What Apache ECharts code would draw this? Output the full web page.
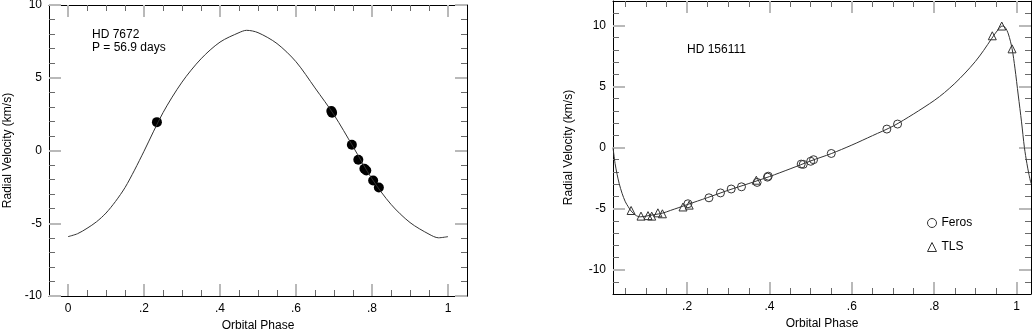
<!DOCTYPE html>
<html>
<head>
<meta charset="utf-8">
<script src="https://cdn.jsdelivr.net/npm/echarts@6/dist/echarts.min.js"></script>
<style>
html, body { margin: 0; padding: 0; background: #fff; }
#wrap { position: relative; width: 1032px; height: 331px; }
.panel { position: absolute; top: 0; width: 516px; height: 331px; }
.frame { z-index: 1; }
.marks { z-index: 2; }
</style>
</head>
<body>
<div id="wrap">
  <div class="panel frame" id="leftFrame" style="left:0"></div>
  <div class="panel marks" id="leftMarks" style="left:0"></div>
  <div class="panel frame" id="rightFrame" style="left:516px"></div>
  <div class="panel marks" id="rightMarks" style="left:516px"></div>
</div>
<script>
var FONT = '"Liberation Sans", Arial, Helvetica, sans-serif';

// HD 7672: fitted orbit + measurements
var phaseA = [0, 0.025, 0.05, 0.075, 0.1, 0.125, 0.15, 0.175, 0.2, 0.25, 0.3, 0.35, 0.4, 0.45, 0.47, 0.5, 0.55, 0.6, 0.65, 0.7, 0.75, 0.8, 0.85, 0.9, 0.95, 0.975, 1];
var fitA = [-5.92, -5.72, -5.35, -4.9, -4.3, -3.5, -2.55, -1.35, -0.05, 2.6, 4.7, 6.3, 7.45, 8.1, 8.26, 8.1, 7.35, 6.1, 4.3, 2.45, 0.27, -1.95, -3.7, -4.95, -5.75, -6.0, -5.92];
var dotPhaseA = [0.234, 0.693, 0.695, 0.747, 0.764, 0.780, 0.785, 0.803, 0.818];
var dotRvA = [1.95, 2.72, 2.6, 0.39, -0.64, -1.26, -1.37, -2.06, -2.54];

// HD 156111: fitted orbit + FEROS / TLS measurements
var phaseB = [0.02, 0.025, 0.03, 0.035, 0.042, 0.05, 0.057, 0.064, 0.075, 0.086, 0.10, 0.12, 0.14, 0.16, 0.18, 0.20, 0.25, 0.30, 0.35, 0.40, 0.45, 0.50, 0.55, 0.60, 0.65, 0.70, 0.75, 0.80, 0.825, 0.85, 0.875, 0.90, 0.92, 0.94, 0.955, 0.965, 0.972, 0.98, 0.989, 0.996, 1.004, 1.012, 1.019, 1.025, 1.030, 1.035];
var fitB = [0.0, -1.3, -2.2, -2.95, -3.75, -4.45, -4.85, -5.2, -5.55, -5.68, -5.62, -5.5, -5.38, -5.15, -4.92, -4.68, -4.1, -3.5, -2.95, -2.38, -1.75, -1.1, -0.5, 0.2, 0.97, 1.75, 2.75, 3.85, 4.5, 5.25, 6.1, 7.05, 7.95, 8.95, 9.65, 9.95, 9.85, 9.3, 8.1, 6.5, 4.3, 2.1, 0.0, -1.3, -2.2, -2.95];
var ferosPhase = [0.202, 0.253, 0.281, 0.307, 0.332, 0.370, 0.395, 0.397, 0.477, 0.482, 0.500, 0.507, 0.550, 0.685, 0.711];
var ferosRv = [-4.61, -4.12, -3.72, -3.40, -3.22, -2.86, -2.43, -2.35, -1.36, -1.38, -1.13, -1.0, -0.49, 1.51, 1.92];
var tlsPhase = [0.064, 0.088, 0.105, 0.114, 0.129, 0.140, 0.190, 0.205, 0.368, 0.941, 0.964, 0.989];
var tlsRv = [-5.16, -5.62, -5.58, -5.62, -5.35, -5.43, -4.87, -4.72, -2.68, 9.15, 9.95, 8.08];

// tick labels
var xTicksA = [0, 0.2, 0.4, 0.6, 0.8, 1];
var yTicksA = [-10, -5, 0, 5, 10];
var xTicksB = [0.2, 0.4, 0.6, 0.8, 1];
var yTicksB = [-10, -5, 0, 5, 10];

function pairs(xs, ys) {
    return xs.map(function (x, i) { return [x, ys[i]]; });
}

// small ticks between the labelled ones
function minorTicks(lo, hi, step, major) {
    var out = [];
    for (var i = Math.ceil(lo / step - 1e-6); i * step <= hi + 1e-6; i++) {
        var v = +(i * step).toFixed(4);
        if (major.indexOf(v) < 0 && v > lo && v < hi) out.push(v);
    }
    return out;
}

function fmtPhase(v) {
    return String(+v.toFixed(2)).replace(/^0\./, '.');
}

// four sides, each drawn twice: short dark ticks + long grey ticks
function makeAxes(dim, min, max, major, minor, name, nameGap, fmt) {
    var sides = dim === 'x' ? ['bottom', 'top'] : ['left', 'right'];
    var list = [];
    sides.forEach(function (pos, k) {
        var main = {
            type: 'value', position: pos, min: min, max: max,
            splitLine: { show: false },
            axisLine: { show: true, onZero: false, lineStyle: { color: '#000', width: 1 } },
            axisTick: { show: true, inside: true, length: 6, customValues: minor, lineStyle: { color: '#6a6a6a', width: 1 } },
            axisLabel: { show: false }
        };
        if (k === 0) {
            main.axisLabel = { show: true, customValues: major, formatter: fmt, margin: 7,
                color: '#000', fontSize: 12, fontFamily: FONT };
            main.name = name;
            main.nameLocation = 'middle';
            main.nameGap = nameGap;
            main.nameTextStyle = { color: '#000', fontSize: 12, fontFamily: FONT };
        }
        list.push(main);
        list.push({
            type: 'value', position: pos, min: min, max: max,
            splitLine: { show: false },
            axisLine: { show: false, onZero: false },
            axisTick: { show: true, inside: true, length: 12, customValues: major, lineStyle: { color: '#b9b9b9', width: 2 } },
            axisLabel: { show: false }
        });
    });
    return list;
}

function textAt(x, y, s) {
    return { type: 'text', x: x, y: y, style: { text: s, fill: '#000', font: '12px ' + FONT, verticalAlign: 'middle' } };
}

// frame layer (axes, ticks, labels) + marks layer (curves, points, notes) on the same grid
function drawPanel(frameId, marksId, grid, xr, yr, xMajor, yMajor, yNameGap, marks) {
    grid.outerBoundsMode = 'none';
    echarts.init(document.getElementById(frameId)).setOption({
        animation: false,
        backgroundColor: '#fff',
        grid: grid,
        xAxis: makeAxes('x', xr[0], xr[1], xMajor, minorTicks(xr[0], xr[1], 0.05, xMajor), 'Orbital Phase', 22, fmtPhase),
        yAxis: makeAxes('y', yr[0], yr[1], yMajor, minorTicks(yr[0], yr[1], 1, yMajor), 'Radial Velocity (km/s)', yNameGap, null),
        series: []
    });
    var opt = {
        animation: false,
        grid: grid,
        xAxis: { type: 'value', min: xr[0], max: xr[1], show: false },
        yAxis: { type: 'value', min: yr[0], max: yr[1], show: false }
    };
    Object.keys(marks).forEach(function (k) { opt[k] = marks[k]; });
    echarts.init(document.getElementById(marksId)).setOption(opt);
}

drawPanel('leftFrame', 'leftMarks', { left: 49, top: 5, width: 418, height: 291 }, [-0.05, 1.05], [-10, 10], xTicksA, yTicksA, 34, {
    graphic: [textAt(92, 34.3, 'HD 7672'), textAt(92, 48, 'P = 56.9 days')],
    series: [
        {
            type: 'line', data: pairs(phaseA, fitA), smooth: 0.3, showSymbol: false,
            lineStyle: { color: '#333', width: 1 }
        },
        {
            type: 'scatter', data: pairs(dotPhaseA, dotRvA), symbol: 'circle', symbolSize: 10,
            itemStyle: { color: '#000', opacity: 1 }
        }
    ]
});

drawPanel('rightFrame', 'rightMarks', { left: 97, top: 1, width: 418, height: 293 }, [0.02, 1.035], [-12, 12], xTicksB, yTicksB, 38, {
    legend: {
        data: ['Feros', 'TLS'],
        orient: 'vertical',
        left: 406, top: 212,
        itemWidth: 9, itemHeight: 9, itemGap: 12,
        itemStyle: { borderWidth: 1 },
        textStyle: { color: '#000', fontSize: 12, fontFamily: FONT }
    },
    graphic: [textAt(171, 50, 'HD 156111')],
    series: [
        {
            type: 'line', data: pairs(phaseB, fitB), smooth: 0.3, showSymbol: false,
            lineStyle: { color: '#333', width: 1 }
        },
        {
            name: 'Feros', type: 'scatter', data: pairs(ferosPhase, ferosRv), symbol: 'circle', symbolSize: 8,
            itemStyle: { color: 'rgba(0,0,0,0)', borderColor: '#333', borderWidth: 1, opacity: 1 }
        },
        {
            name: 'TLS', type: 'scatter', data: pairs(tlsPhase, tlsRv), symbol: 'triangle', symbolSize: 8,
            itemStyle: { color: 'rgba(0,0,0,0)', borderColor: '#333', borderWidth: 1, opacity: 1 }
        }
    ]
});
</script>
</body>
</html>
